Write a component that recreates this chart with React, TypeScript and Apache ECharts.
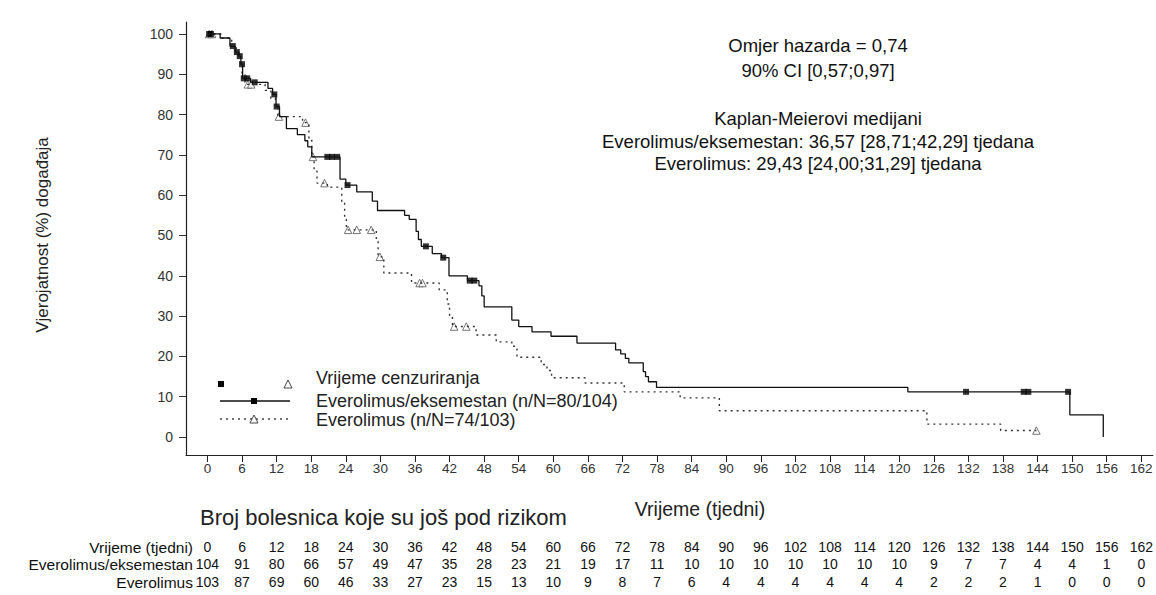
import React, { useEffect, useRef } from "react";
import * as echarts from "echarts";

const tickWeeks = [0, 6, 12, 18, 24, 30, 36, 42, 48, 54, 60, 66, 72, 78, 84, 90, 96, 102, 108, 114, 120, 126, 132, 138, 144, 150, 156, 162];
const yTicks = [0, 10, 20, 30, 40, 50, 60, 70, 80, 90, 100];

const riskEveExe = [104, 91, 80, 66, 57, 49, 47, 35, 28, 23, 21, 19, 17, 11, 10, 10, 10, 10, 10, 10, 10, 9, 7, 7, 4, 4, 1, 0];
const riskEve = [103, 87, 69, 60, 46, 33, 27, 23, 15, 13, 10, 9, 8, 7, 6, 4, 4, 4, 4, 4, 4, 2, 2, 2, 1, 0, 0, 0];

const solidCurve = [
  [0, 100], [2.2, 99], [3.9, 97], [4.8, 95.5], [5.4, 94.5], [5.8, 92.5], [6.1, 89], [7.5, 88], [10.5, 86.5],
  [11.3, 85], [11.9, 82], [12.5, 79.5], [13.7, 76.5], [15.6, 75], [16.9, 73.5], [17.4, 72], [18.1, 69.5],
  [23.0, 64], [24.0, 62.5], [25.9, 60.8], [28.6, 58.5], [29.5, 56.2], [34.2, 55], [35.0, 54], [36.2, 51],
  [36.6, 49], [37.1, 47.3], [39.0, 45.5], [40.6, 44.5], [41.9, 40], [45.1, 38.8], [47.1, 37.5], [47.6, 35],
  [48.0, 32.3], [52.8, 29], [54.0, 27.4], [56.3, 26.1], [59.6, 25], [64.1, 23.3], [70.8, 21.6], [71.7, 20.6],
  [72.5, 19.5], [73.1, 18.4], [75.6, 16.2], [76.0, 15], [76.5, 13.7], [77.9, 12.3], [121.5, 11.2],
  [149.6, 5.5], [155.4, 0],
];

const dottedCurve = [
  [0, 100], [2.5, 99], [4.2, 97], [5.0, 95], [5.6, 93], [6.0, 90], [6.5, 87.5], [10.0, 86], [11.0, 84],
  [11.8, 82], [12.2, 79.5], [16.5, 78], [17.6, 74], [18.1, 69.5], [18.5, 66], [19.0, 63], [20.8, 62],
  [23.3, 58], [23.8, 54], [24.1, 51.4], [29.3, 48.5], [29.6, 44.7], [30.6, 40.7], [35.4, 38.2], [40.2, 36.5],
  [41.6, 33], [42.0, 30], [42.5, 27.4], [46.6, 25.3], [50.1, 23.6], [52.8, 22.5], [53.7, 19.8], [57.9, 18],
  [58.9, 16.5], [59.7, 14.7], [65.5, 13.4], [72.3, 11.2], [82.0, 9.7], [88.8, 6.5], [124.8, 3.2],
  [137.6, 1.6], [143.8, 1.6],
];

const solidCensor = [
  [0.3, 100], [0.6, 100], [4.4, 97], [5.1, 95.5], [5.6, 94.5], [6.0, 92.5], [6.3, 89], [6.9, 89], [8.2, 88],
  [11.6, 85], [12.0, 82], [20.8, 69.5], [21.6, 69.5], [22.5, 69.5], [24.3, 62.5], [37.9, 47.3], [40.9, 44.5],
  [45.5, 38.8], [46.3, 38.8], [131.6, 11.2], [141.6, 11.2], [142.4, 11.2], [149.3, 11.2],
];

const dottedCensor = [
  [0.3, 100], [0.8, 100], [7.0, 87.5], [7.6, 87.5], [12.4, 79.5], [17.0, 78], [18.3, 69.5], [20.3, 63],
  [24.4, 51.4], [25.9, 51.4], [28.4, 51.4], [29.9, 44.7], [36.8, 38.2], [37.3, 38.2], [42.8, 27.4],
  [44.9, 27.4], [143.8, 1.6],
];

const annotationLines = [
  "Omjer hazarda = 0,74",
  "90% CI [0,57;0,97]",
  "",
  "Kaplan-Meierovi medijani",
  "Everolimus/eksemestan: 36,57 [28,71;42,29] tjedana",
  "Everolimus: 29,43 [24,00;31,29] tjedana",
];

const FONT = "'Liberation Sans', Arial, sans-serif";
const X_MIN = -3.72;
const X_MAX = 164.0;

export default function App() {
  const ref = useRef<HTMLDivElement>(null);

  useEffect(() => {
    if (!ref.current) return;
    const chart = echarts.init(ref.current, null, { renderer: "svg" });

    const riskAxis = (offset: number, vals: number[] | null) => ({
      type: "value",
      gridIndex: 0,
      min: X_MIN,
      max: X_MAX,
      position: "bottom",
      offset,
      axisLine: { show: false },
      axisTick: { show: false },
      splitLine: { show: false },
      axisLabel: {
        customValues: tickWeeks,
        margin: 0,
        fontSize: 14,
        fontFamily: FONT,
        color: "#111",
        formatter: (v: number) => {
          const i = Math.round(v / 6);
          return vals ? String(vals[i]) : String(tickWeeks[i]);
        },
      },
    });

    const annY = [45, 70, 95, 118, 141, 163];
    const graphics: any[] = [];
    annotationLines.forEach((t, i) => {
      if (!t) return;
      graphics.push({
        type: "text",
        x: 818,
        y: annY[i],
        style: { text: t, font: `18.5px ${FONT}`, fill: "#111", align: "center", verticalAlign: "middle" },
      });
    });

    // axis titles
    graphics.push({
      type: "text",
      x: 42,
      y: 235,
      rotation: Math.PI / 2,
      style: { text: "Vjerojatnost (%) događaja", font: `17px ${FONT}`, fill: "#222", align: "center", verticalAlign: "middle" },
    });
    graphics.push({
      type: "text",
      x: 700,
      y: 509,
      style: { text: "Vrijeme (tjedni)", font: `19.5px ${FONT}`, fill: "#222", align: "center", verticalAlign: "middle" },
    });
    graphics.push({
      type: "text",
      x: 200,
      y: 517,
      style: { text: "Broj bolesnica koje su još pod rizikom", font: `22px ${FONT}`, fill: "#222", align: "left", verticalAlign: "middle" },
    });
    // risk table row labels
    [["Vrijeme (tjedni)", 547], ["Everolimus/eksemestan", 564], ["Everolimus", 582]].forEach(([t, y]) => {
      graphics.push({
        type: "text",
        x: 193,
        y: y as number,
        style: { text: t as string, font: `15.5px ${FONT}`, fill: "#111", align: "right", verticalAlign: "middle" },
      });
    });

    // legend
    graphics.push({ type: "rect", shape: { x: 218, y: 381, width: 6, height: 6 }, style: { fill: "#000" } });
    graphics.push({
      type: "polygon",
      shape: { points: [[288, 380], [284, 388], [292, 388]] },
      style: { fill: "#fff", stroke: "#444", lineWidth: 1 },
    });
    graphics.push({ type: "line", shape: { x1: 220, y1: 401, x2: 290, y2: 401 }, style: { stroke: "#111", lineWidth: 1.3 } });
    graphics.push({ type: "rect", shape: { x: 251, y: 398, width: 6, height: 6 }, style: { fill: "#000" } });
    graphics.push({
      type: "line",
      shape: { x1: 220, y1: 419, x2: 290, y2: 419 },
      style: { stroke: "#444", lineWidth: 1.3, lineDash: [2, 4] },
    });
    graphics.push({
      type: "polygon",
      shape: { points: [[254, 415], [250, 423], [258, 423]] },
      style: { fill: "#fff", stroke: "#444", lineWidth: 1 },
    });
    [["Vrijeme cenzuriranja", 378], ["Everolimus/eksemestan (n/N=80/104)", 401], ["Everolimus (n/N=74/103)", 420]].forEach(
      ([t, y]) => {
        graphics.push({
          type: "text",
          x: 316,
          y: y as number,
          style: { text: t as string, font: `18px ${FONT}`, fill: "#222", align: "left", verticalAlign: "middle" },
        });
      }
    );

    const option: any = {
      animation: false,
      backgroundColor: "#fff",
      grid: { left: 186, right: 0, top: 22, bottom: 140, containLabel: false },
      xAxis: [
        {
          type: "value",
          min: X_MIN,
          max: X_MAX,
          position: "bottom",
          axisLine: { show: true, onZero: false, lineStyle: { color: "#222", width: 1.2 } },
          axisTick: { show: true, customValues: tickWeeks, length: 7, lineStyle: { color: "#222" } },
          splitLine: { show: false },
          axisLabel: { customValues: tickWeeks, margin: 6, fontSize: 13.5, fontFamily: FONT, color: "#333" },
        },
        riskAxis(85, null),
        riskAxis(102, riskEveExe),
        riskAxis(120, riskEve),
      ],
      yAxis: {
        type: "value",
        min: -4.47,
        max: 102.97,
        axisLine: { show: true, onZero: false, lineStyle: { color: "#222", width: 1.2 } },
        axisTick: { show: true, customValues: yTicks, length: 7, lineStyle: { color: "#333" } },
        splitLine: { show: false },
        axisLabel: { customValues: yTicks, margin: 13, fontSize: 14, fontFamily: FONT, color: "#333" },
      },
      graphic: graphics,
      series: [
        {
          type: "line",
          data: dottedCurve,
          step: "end",
          symbol: "none",
          lineStyle: { color: "#333", width: 1.4, type: [2, 4] },
        },
        {
          type: "scatter",
          data: dottedCensor,
          symbol: "triangle",
          symbolSize: 7.5,
          itemStyle: { color: "#fff", borderColor: "#555", borderWidth: 1 },
        },
        {
          type: "line",
          data: solidCurve,
          step: "end",
          symbol: "none",
          lineStyle: { color: "#111", width: 1.3 },
        },
        {
          type: "scatter",
          data: solidCensor,
          symbol: "rect",
          symbolSize: 6,
          itemStyle: { color: "#000" },
        },
      ],
    };

    chart.setOption(option);
    return () => chart.dispose();
  }, []);

  return (
    <div
      ref={ref}
      style={{ position: "absolute", left: 0, top: 0, width: 1156, height: 595, background: "#fff" }}
    />
  );
}
